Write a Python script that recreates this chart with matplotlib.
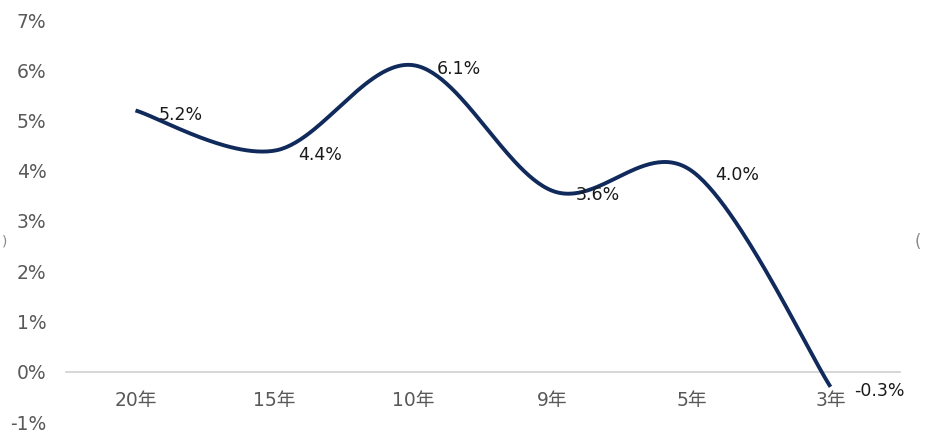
import numpy as np
import matplotlib
matplotlib.use("Agg")
import matplotlib.pyplot as plt

plt.rcParams['font.family'] = ['DejaVu Sans', 'Noto Sans CJK SC']

periods = ['20年', '15年', '10年', '9年', '5年', '3年']
returns = [5.2, 4.4, 6.1, 3.6, 4.0, -0.3]
y_ticks = [-1, 0, 1, 2, 3, 4, 5, 6, 7]


def smooth_curve(xs, ys, steps=60):
    # bezier segments with control points from neighbouring points (spreadsheet-style smoothing)
    pts = np.column_stack([xs, ys]).astype(float)
    padded = np.vstack([pts[0], pts, pts[-1]])
    out = []
    for i in range(len(pts) - 1):
        p0, p1 = padded[i + 1], padded[i + 2]
        c1 = p0 + (padded[i + 2] - padded[i]) / 6.0
        c2 = p1 - (padded[i + 3] - padded[i + 1]) / 6.0
        t = np.linspace(0, 1, steps)[:, None]
        seg = ((1 - t) ** 3) * p0 + 3 * ((1 - t) ** 2) * t * c1 + 3 * (1 - t) * t ** 2 * c2 + t ** 3 * p1
        out.append(seg if i == 0 else seg[1:])
    out = np.vstack(out)
    return out[:, 0], out[:, 1]


fig = plt.figure(figsize=(9.28, 4.32), dpi=100)
ax = fig.add_axes([66 / 928, 10 / 432, 834 / 928, 402 / 432])

x = np.arange(len(periods))
sx, sy = smooth_curve(x, returns)
ax.plot(sx, sy, color='#112a5c', linewidth=2.8, solid_capstyle='butt', zorder=3)

for xi, yi in zip(x, returns):
    ax.annotate(f'{yi:.1f}%', (xi, yi), xytext=(17, -3), textcoords='offset points',
                ha='left', va='center', fontsize=12.5, color='#1a1a1a', zorder=4)

ax.set_xlim(-0.5, len(periods) - 0.5)
ax.set_ylim(-1, 7)
ax.set_yticks(y_ticks)
ax.set_yticklabels([f'{v}%' for v in y_ticks])
ax.set_xticks(x)
ax.set_xticklabels(periods)

for side in ['top', 'right', 'left']:
    ax.spines[side].set_visible(False)
ax.spines['bottom'].set_position(('data', 0))
ax.spines['bottom'].set_color('#d0d0d0')
ax.spines['bottom'].set_linewidth(1.2)

ax.tick_params(axis='y', length=0, pad=14, labelsize=13.5, labelcolor='#595959')
ax.tick_params(axis='x', length=0, pad=14, labelsize=13.5, labelcolor='#595959')

# axis-title fragments at the figure edges
fig.text(0.002, 0.44, ')', fontsize=10, color='#8a8a8a', ha='left', va='center')
fig.text(0.986, 0.44, '(', fontsize=12, color='#8a8a8a', ha='left', va='center')

fig.savefig('out.png', dpi=100)
